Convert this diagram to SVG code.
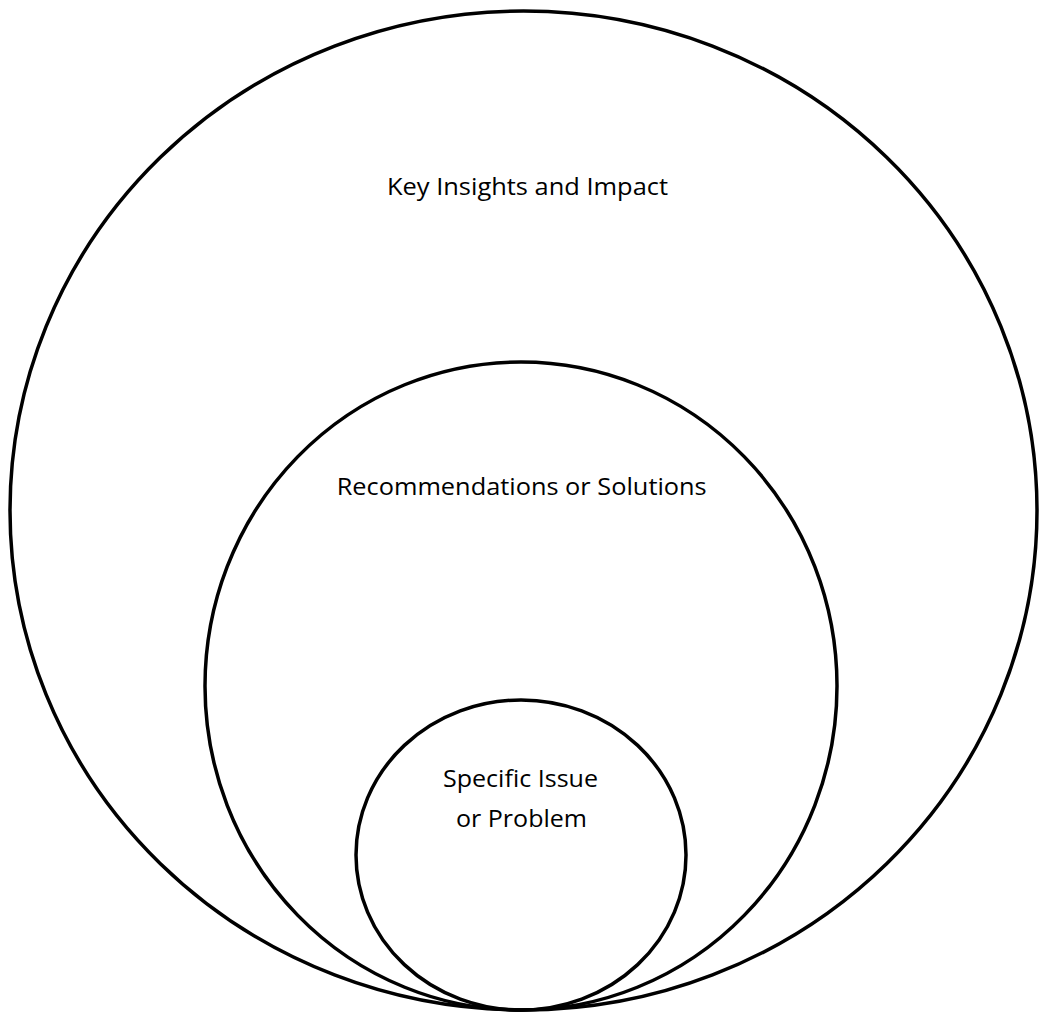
<svg xmlns="http://www.w3.org/2000/svg" width="1039" height="1015" viewBox="0 0 1039 1015">
<style>
.ring{fill:none;stroke:#000;stroke-width:3.5}
.lbl{font-family:"Open Sans","Liberation Sans",sans-serif;font-size:24px;fill:#000;text-anchor:middle}
</style>
<rect width="1039" height="1015" fill="#fff"/>
<g id="outer">
<ellipse class="ring" cx="523.5" cy="510.5" rx="513.5" ry="499.5"/>
<text class="lbl" x="527.5" y="195" textLength="281" lengthAdjust="spacingAndGlyphs">Key Insights and Impact</text>
</g>
<g id="middle">
<ellipse class="ring" cx="521" cy="686" rx="316" ry="324"/>
<text class="lbl" x="521.7" y="495" textLength="370" lengthAdjust="spacingAndGlyphs">Recommendations or Solutions</text>
</g>
<g id="inner">
<ellipse class="ring" cx="521" cy="855" rx="165" ry="155"/>
<text class="lbl" x="520.5" y="787" textLength="155" lengthAdjust="spacingAndGlyphs">Specific Issue</text>
<text class="lbl" x="521.5" y="827" textLength="131" lengthAdjust="spacingAndGlyphs">or Problem</text>
</g>
<g id="connectors"></g>
</svg>
